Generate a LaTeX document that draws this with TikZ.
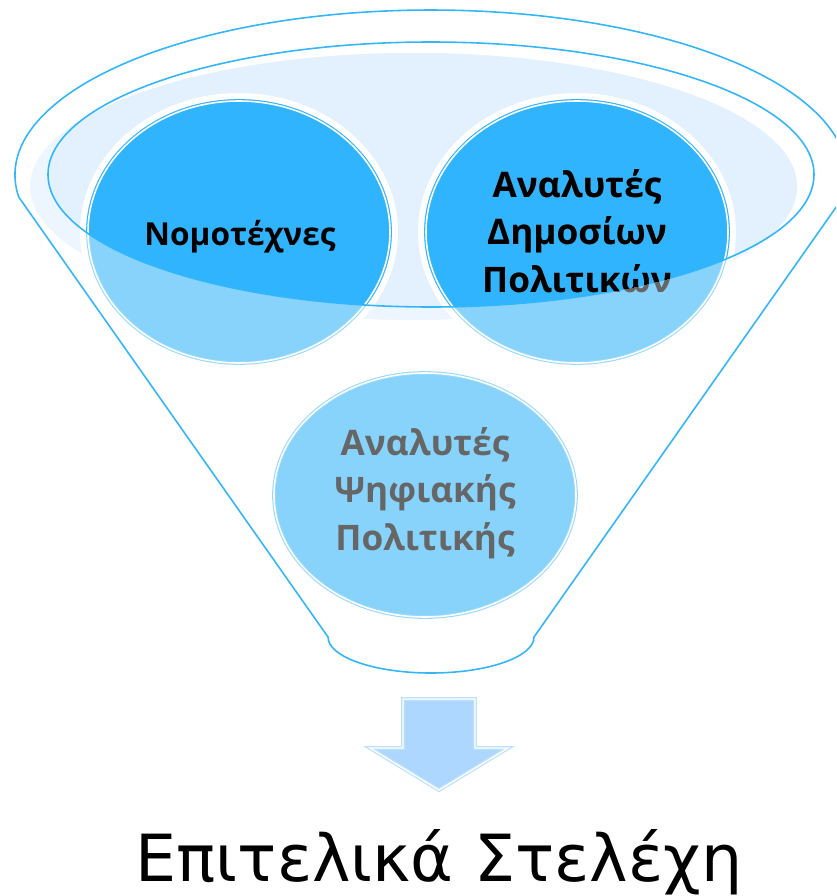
\documentclass[tikz,border=0pt]{standalone}
\usepackage{fontspec}
\setmainfont{Open Sans}
\newfontfamily\resultfont{DejaVu Sans}
\definecolor{rimblue}{RGB}{51, 181, 250}
\definecolor{balldark}{RGB}{49, 180, 254}
\definecolor{balllight}{RGB}{135, 211, 252}
\definecolor{balledge}{RGB}{150, 216, 252}
\definecolor{bgblue}{RGB}{227, 240, 254}
\definecolor{bgpale}{RGB}{237, 245, 255}
\definecolor{arrowfill}{RGB}{173, 215, 254}
\definecolor{arrowedge}{RGB}{190, 224, 254}
\definecolor{labelgray}{RGB}{102, 102, 102}
\usepackage{tikz}
\usetikzlibrary{positioning}

\tikzset{
  rimline/.style={draw=rimblue, line width=0.9pt},
  ballpale/.style={fill=balllight, draw=balledge, line width=0.6pt, double=white, double distance=0.9pt},
  ballfull/.style={fill=balldark, draw=balldark, line width=0.6pt, double=white, double distance=0.9pt},
  balltext/.style={align=center, font=\fontsize{20}{27}\selectfont\bfseries},
  flowarrow/.style={fill=arrowfill, draw=arrowedge, line width=0.7pt, double=white, double distance=0.8pt, line join=miter}
}

\begin{document}
\begin{tikzpicture}[x=0.02cm, y=-0.02cm]
  \clip (0,0) rectangle (836,896);

  % Funnel background
  \fill[bgpale] (413.5,186.5) ellipse [x radius=383.5, y radius=133.5];
  \begin{scope}
    \clip (413.5,186.5) ellipse [x radius=383.5, y radius=133.5];
    \fill[bgblue] (431,174.5) ellipse [x radius=383, y radius=132.5];
  \end{scope}

  % White halos round the upper balls
  \fill[white] (239,232) ellipse [x radius=159, y radius=139];
  \fill[white] (577,232) ellipse [x radius=159, y radius=139];

  % Balls
  \foreach \cx/\cy/\ry in {239/232/131, 577/232/131, 425/495/122}
    \filldraw[ballpale] (\cx,\cy) ellipse [x radius=151, y radius=\ry];
  \begin{scope}
    \clip (431,174.5) ellipse [x radius=383, y radius=132.5];
    \foreach \cx in {239, 577}
      \filldraw[ballfull] (\cx,232) ellipse [x radius=151, y radius=131];
  \end{scope}

  % Rim and funnel body
  \draw[rimline] (431,174.5) ellipse [x radius=383, y radius=132.5];
  \draw[rimline] (18.7,197) arc [start angle=172.34, end angle=367.66, x radius=416, y radius=165]
    -- (534,637) arc [start angle=0, end angle=180, x radius=103, y radius=36] -- cycle;

  % Labels
  \node[balltext, font=\fontsize{18}{27}\selectfont\bfseries, anchor=base] (lawyers) at (240,245) {Νομοτέχνες};
  \node[balltext, text=labelgray] (policy) at (577,231) {Αναλυτές\\Δημοσίων\\Πολιτικών};
  \begin{scope}
    \clip (431,174.5) ellipse [x radius=383, y radius=132.5];
    \node[balltext] at (policy) {Αναλυτές\\Δημοσίων\\Πολιτικών};
  \end{scope}
  \node[balltext, text=labelgray] (digital) at (425,493) {Αναλυτές\\Ψηφιακής\\Πολιτικής};

  % Arrow
  \filldraw[flowarrow] (403,699) -- (475,699) -- (475,748) -- (508,748) -- (439,790) -- (370,748) -- (403,748) -- cycle;

  % Result
  \node[anchor=base, inner sep=0pt, font=\resultfont\fontsize{37}{44}\selectfont] (staff) at (439,881) {Επιτελικά Στελέχη};
\end{tikzpicture}
\end{document}
